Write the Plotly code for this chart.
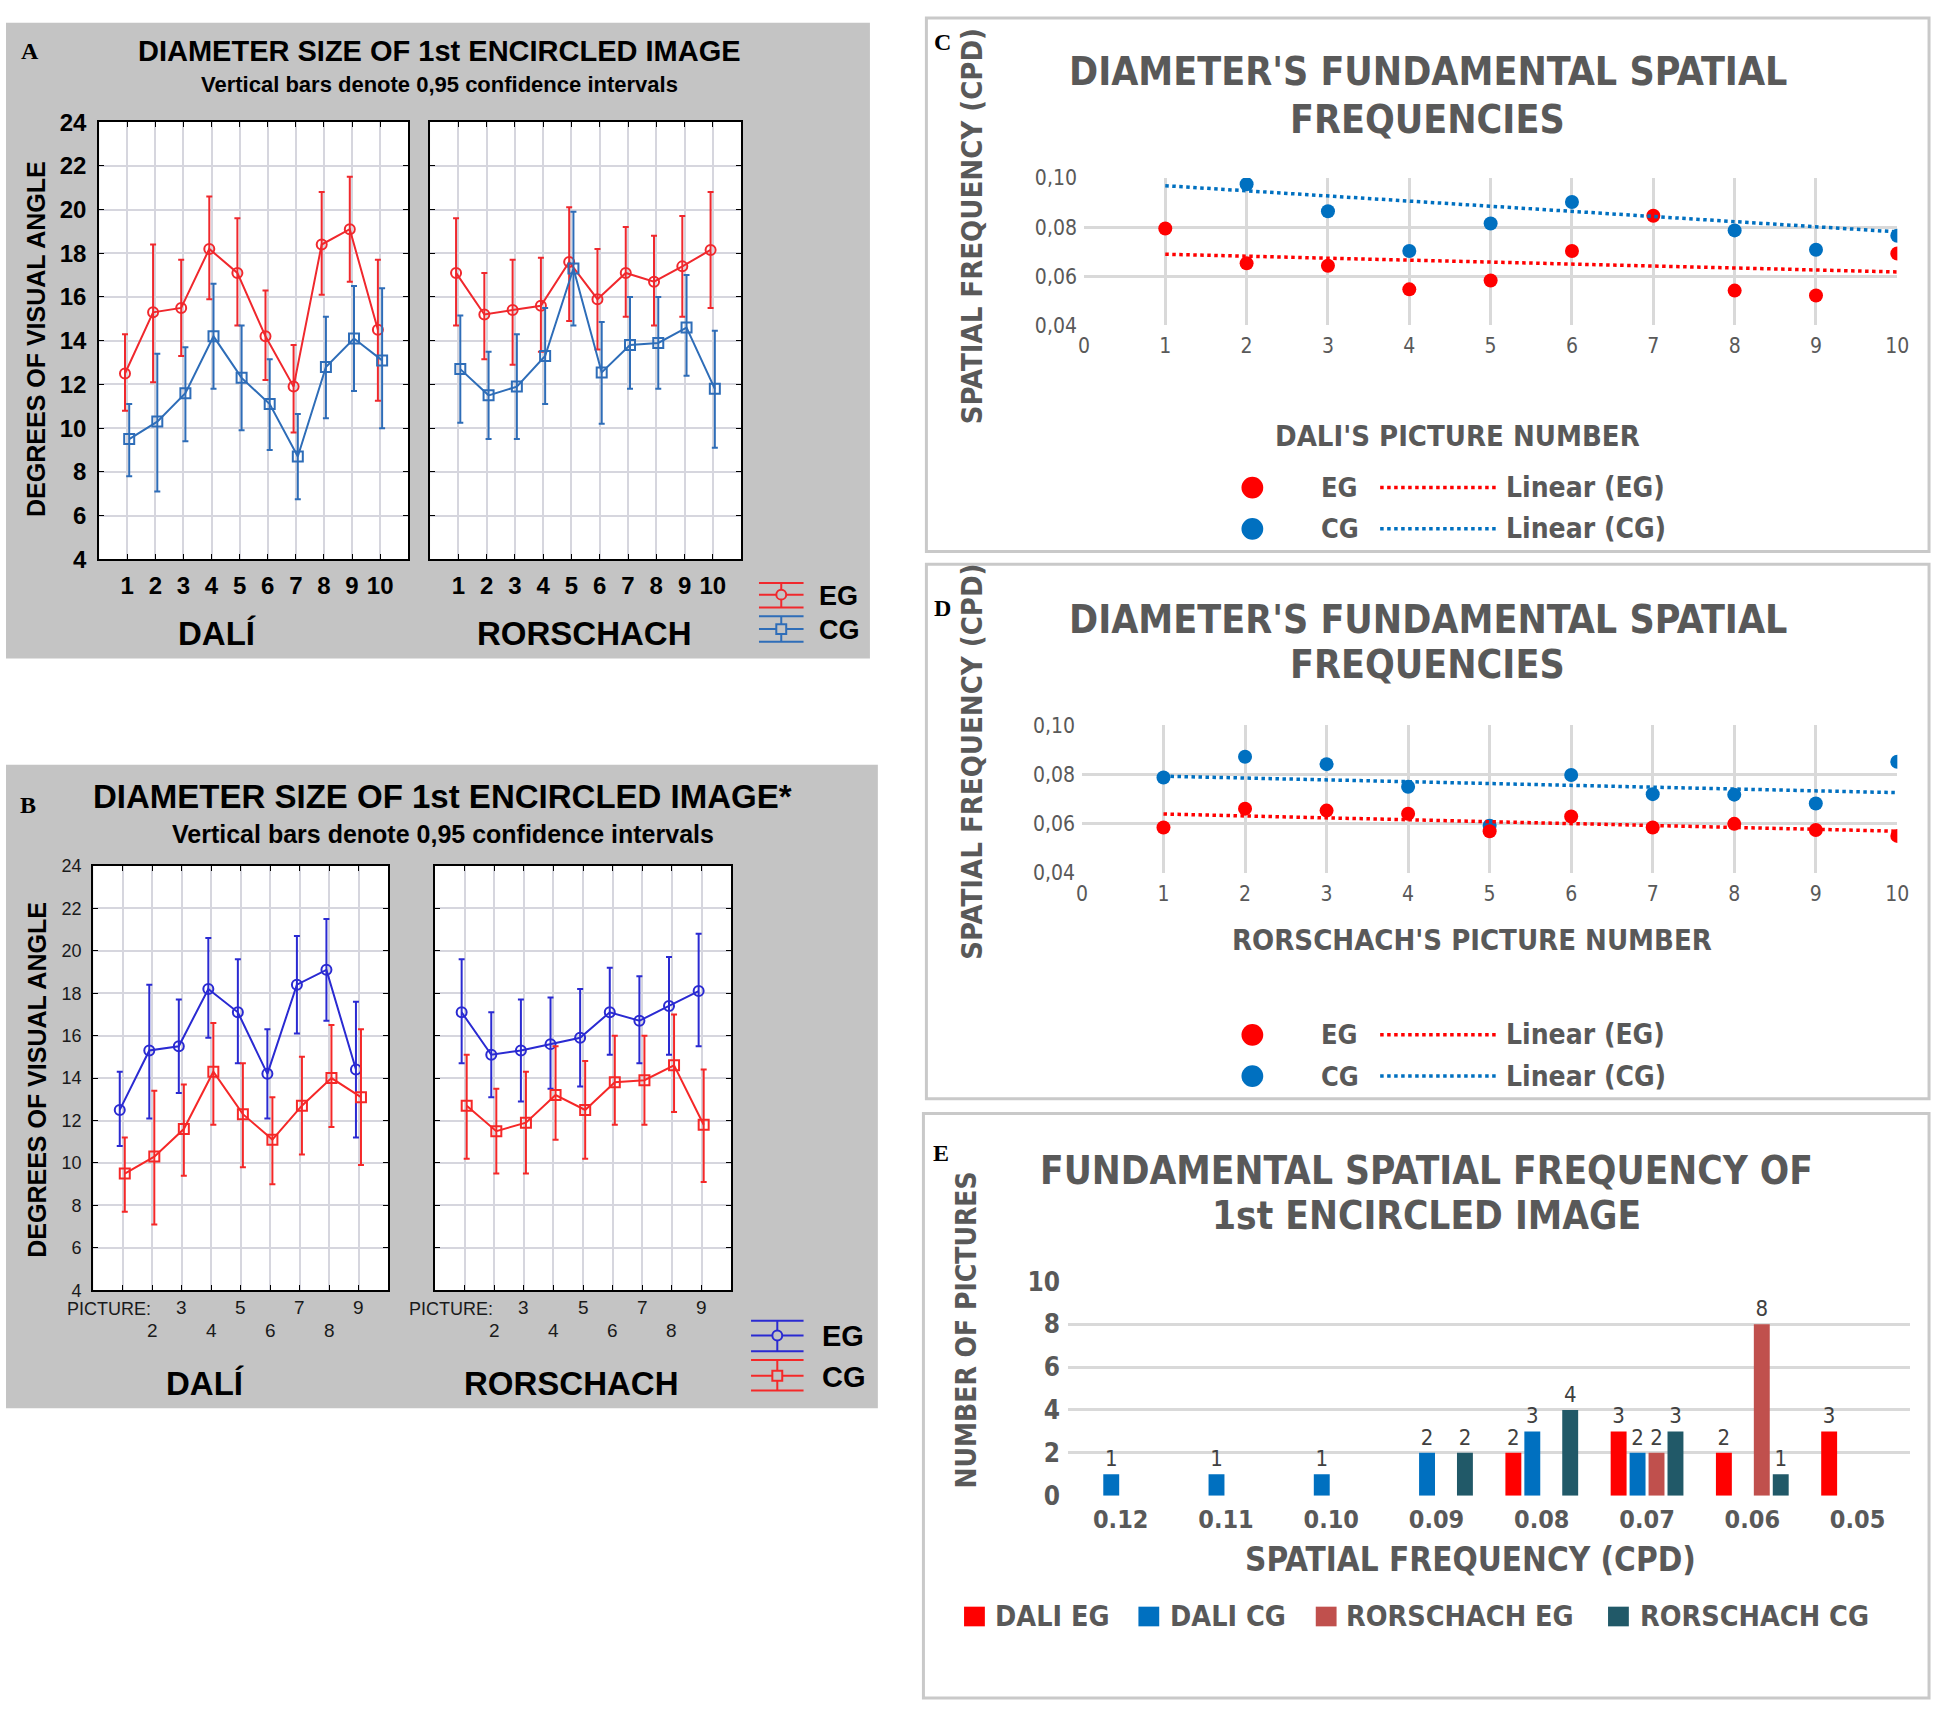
import plotly.graph_objects as go

W, H = 1945, 1716

# ---------------- data ----------------
pictures = [1, 2, 3, 4, 5, 6, 7, 8, 9, 10]

# Panel A - Dali
dali_eg = [12.5, 15.3, 15.5, 18.2, 17.1, 14.2, 11.9, 18.4, 19.1, 14.5]
dali_eg_hi = [14.3, 18.4, 17.7, 20.6, 19.6, 16.3, 13.8, 20.8, 21.5, 17.7]
dali_eg_lo = [10.8, 12.1, 13.3, 15.9, 14.7, 12.2, 9.8, 16.1, 16.7, 11.25]
dali_cg = [9.5, 10.3, 11.6, 14.2, 12.3, 11.1, 8.7, 12.8, 14.1, 13.1]
dali_cg_hi = [11.1, 13.4, 13.7, 16.6, 14.7, 13.15, 10.65, 15.1, 16.5, 16.4]
dali_cg_lo = [7.8, 7.1, 9.4, 11.8, 9.9, 9.0, 6.75, 10.45, 11.7, 10.0]
# Panel A - Rorschach
ror_eg = [17.1, 15.2, 15.4, 15.6, 17.6, 15.9, 17.1, 16.7, 17.4, 18.15]
ror_eg_hi = [19.6, 17.1, 17.7, 17.8, 20.1, 18.2, 19.2, 18.8, 19.7, 20.8]
ror_eg_lo = [14.7, 13.15, 12.9, 13.5, 14.9, 13.6, 15.1, 14.7, 15.1, 15.5]
ror_cg = [12.7, 11.5, 11.9, 13.3, 17.3, 12.55, 13.8, 13.9, 14.6, 11.8]
ror_cg_hi = [15.15, 13.5, 14.3, 15.5, 19.9, 14.85, 16.0, 16.0, 17.0, 14.45]
ror_cg_lo = [10.25, 9.5, 9.5, 11.1, 14.7, 10.2, 11.8, 11.8, 12.4, 9.1]

# Panel B (9 pictures)
b_pictures = [1, 2, 3, 4, 5, 6, 7, 8, 9]
b_tick_labels = ["", "2", "3", "4", "5", "6", "7", "8", "9"]
b_dali_eg = [12.5, 15.3, 15.5, 18.2, 17.1, 14.2, 18.4, 19.1, 14.4]
b_dali_eg_hi = [14.3, 18.4, 17.7, 20.6, 19.6, 16.3, 20.7, 21.5, 17.6]
b_dali_eg_lo = [10.8, 12.1, 13.3, 15.9, 14.7, 12.1, 16.1, 16.7, 11.2]
b_dali_cg = [9.5, 10.3, 11.6, 14.3, 12.3, 11.1, 12.7, 14.0, 13.1]
b_dali_cg_hi = [11.2, 13.4, 13.7, 16.6, 14.7, 13.1, 15.0, 16.5, 16.3]
b_dali_cg_lo = [7.7, 7.1, 9.4, 11.8, 9.8, 9.0, 10.4, 11.7, 9.9]
b_ror_eg = [17.1, 15.1, 15.3, 15.6, 15.9, 17.1, 16.7, 17.4, 18.1]
b_ror_eg_hi = [19.6, 17.1, 17.7, 17.8, 18.2, 19.2, 18.8, 19.7, 20.8]
b_ror_eg_lo = [14.7, 13.1, 12.9, 13.5, 13.6, 15.1, 14.7, 15.1, 15.5]
b_ror_cg = [12.7, 11.5, 11.9, 13.2, 12.5, 13.8, 13.9, 14.6, 11.8]
b_ror_cg_hi = [15.1, 13.5, 14.3, 15.5, 14.8, 16.0, 16.0, 17.0, 14.4]
b_ror_cg_lo = [10.2, 9.5, 9.5, 11.1, 10.2, 11.8, 11.8, 12.4, 9.1]

# Panel C - Dali spatial frequencies
c_eg = [0.0795, 0.0653, 0.0643, 0.0547, 0.0583, 0.0703, 0.0847, 0.0542, 0.0522, 0.0693]
c_cg = [0.12, 0.0975, 0.0865, 0.0703, 0.0815, 0.0903, 0.11, 0.0787, 0.0708, 0.0765]
trend_x = [1, 10]
c_eg_trend = [0.0690, 0.0618]
c_cg_trend = [0.0969, 0.0781]

# Panel D - Rorschach spatial frequencies
d_eg = [0.0584, 0.0661, 0.0653, 0.0640, 0.0569, 0.0629, 0.0584, 0.0599, 0.0574, 0.0550]
d_cg = [0.0788, 0.0872, 0.0842, 0.0750, 0.0591, 0.0798, 0.0720, 0.0718, 0.0682, 0.0852]
d_eg_trend = [0.0639, 0.0569]
d_cg_trend = [0.0793, 0.0726]
sf_ticks = [0.04, 0.06, 0.08, 0.10]
sf_tick_text = ["0,04", "0,06", "0,08", "0,10"]

# Panel E - histogram
freq_bins = ["0.12", "0.11", "0.10", "0.09", "0.08", "0.07", "0.06", "0.05"]
e_dali_eg = [0, 0, 0, 0, 2, 3, 2, 3]
e_dali_cg = [1, 1, 1, 2, 3, 2, 0, 0]
e_ror_eg = [0, 0, 0, 0, 0, 2, 8, 0]
e_ror_cg = [0, 0, 0, 2, 4, 3, 1, 0]

# ---------------- styles ----------------
SANS = "Liberation Sans, Arial, sans-serif"
NARROW = "Liberation Sans Narrow, DejaVu Sans Condensed, Arial Narrow, sans-serif"
SERIF = "Liberation Serif, Times New Roman, serif"
GRAYTXT = "#595959"
PANEL_GRAY = "#C4C4C4"
A_RED, A_BLUE = "#F0282D", "#2E6DB8"
B_BLUE, B_RED = "#2A2AD2", "#F52828"
XL_RED, XL_BLUE = "#FF0000", "#0070C0"
XL_RED2, XL_TEAL = "#C0504D", "#215968"


def PX(x):
    return x / W


def PY(y):
    return 1 - y / H


def dx(a, b):
    return [PX(a), PX(b)]


def dy(top, bottom):
    return [PY(bottom), PY(top)]


fig = go.Figure()


def err_trace(x, y, hi, lo, off, color, symbol, xa, ya):
    fig.add_trace(go.Scatter(
        x=[v + off for v in x], y=y, mode="lines+markers",
        line=dict(color=color, width=2),
        marker=dict(symbol=symbol, size=10, color=color, line=dict(color=color, width=2)),
        error_y=dict(type="data", symmetric=False,
                     array=[h - v for h, v in zip(hi, y)],
                     arrayminus=[v - l for v, l in zip(y, lo)],
                     color=color, thickness=2, width=3),
        xaxis=xa, yaxis=ya, cliponaxis=False, hoverinfo="skip"))


# Panel A
err_trace(pictures, dali_eg, dali_eg_hi, dali_eg_lo, -0.08, A_RED, "circle-open", "x", "y")
err_trace(pictures, dali_cg, dali_cg_hi, dali_cg_lo, 0.07, A_BLUE, "square-open", "x", "y")
err_trace(pictures, ror_eg, ror_eg_hi, ror_eg_lo, -0.08, A_RED, "circle-open", "x2", "y2")
err_trace(pictures, ror_cg, ror_cg_hi, ror_cg_lo, 0.07, A_BLUE, "square-open", "x2", "y2")
# Panel B
err_trace(b_pictures, b_dali_eg, b_dali_eg_hi, b_dali_eg_lo, -0.1, B_BLUE, "circle-open", "x3", "y3")
err_trace(b_pictures, b_dali_cg, b_dali_cg_hi, b_dali_cg_lo, 0.07, B_RED, "square-open", "x3", "y3")
err_trace(b_pictures, b_ror_eg, b_ror_eg_hi, b_ror_eg_lo, -0.1, B_BLUE, "circle-open", "x4", "y4")
err_trace(b_pictures, b_ror_cg, b_ror_cg_hi, b_ror_cg_lo, 0.07, B_RED, "square-open", "x4", "y4")

# Panels C, D
for xa, ya, eg, cg, egt, cgt in [("x5", "y5", c_eg, c_cg, c_eg_trend, c_cg_trend),
                                 ("x6", "y6", d_eg, d_cg, d_eg_trend, d_cg_trend)]:
    fig.add_trace(go.Scatter(x=pictures, y=cg, mode="markers", hoverinfo="skip",
                             marker=dict(size=14, color=XL_BLUE), xaxis=xa, yaxis=ya))
    fig.add_trace(go.Scatter(x=pictures, y=eg, mode="markers", hoverinfo="skip",
                             marker=dict(size=14, color=XL_RED), xaxis=xa, yaxis=ya))
    fig.add_trace(go.Scatter(x=trend_x, y=egt, mode="lines", hoverinfo="skip",
                             line=dict(color=XL_RED, width=3.5, dash="dot"), xaxis=xa, yaxis=ya))
    fig.add_trace(go.Scatter(x=trend_x, y=cgt, mode="lines", hoverinfo="skip",
                             line=dict(color=XL_BLUE, width=3.5, dash="dot"), xaxis=xa, yaxis=ya))

# Panel E
for vals, col in [(e_dali_eg, XL_RED), (e_dali_cg, XL_BLUE), (e_ror_eg, XL_RED2), (e_ror_cg, XL_TEAL)]:
    fig.add_trace(go.Bar(
        x=freq_bins, y=vals, marker=dict(color=col, line=dict(width=0)),
        text=[str(v) if v else "" for v in vals], textposition="outside",
        textfont=dict(family=NARROW, size=22, color="#404040"), cliponaxis=False,
        hoverinfo="skip", xaxis="x7", yaxis="y7"))

# ---------------- axes ----------------
ab_grid = "#D6D6DE"


def ab_x(dom, anchor, rng, ticks, showlabels):
    return dict(domain=dom, anchor=anchor, range=rng, tickvals=ticks, showticklabels=showlabels,
                ticks="inside", ticklen=5, tickcolor="black", showgrid=True, gridcolor=ab_grid,
                gridwidth=2, showline=True, linecolor="black", linewidth=2, mirror="ticks",
                zeroline=False, tickfont=dict(family=SANS, size=24, color="black", weight="bold"),
                ticklabelstandoff=4)


def ab_y(dom, anchor, showlabels, font):
    return dict(domain=dom, anchor=anchor, range=[4, 24], tickvals=list(range(4, 25, 2)),
                showticklabels=showlabels, ticks="inside", ticklen=5, tickcolor="black",
                showgrid=True, gridcolor=ab_grid, gridwidth=2, showline=True, linecolor="black",
                linewidth=2, mirror="ticks", zeroline=False, tickfont=font, ticklabelstandoff=6)


fontA = dict(family=SANS, size=24, color="black", weight="bold")
fontB = dict(family=SANS, size=18, color="#1A1A1A")

xl_grid = "#D9D9D9"


def xl_x(dom, anchor):
    return dict(domain=dom, anchor=anchor, range=[0, 10], dtick=1, showgrid=True, gridcolor=xl_grid,
                gridwidth=3, showline=False, zeroline=False, ticks="",
                tickfont=dict(family=NARROW, size=21, color=GRAYTXT), ticklabelstandoff=6)


def xl_y(dom, anchor):
    return dict(domain=dom, anchor=anchor, range=[0.04, 0.10], tickvals=sf_ticks, ticktext=sf_tick_text,
                showgrid=True, gridcolor=xl_grid, gridwidth=3, showline=False, zeroline=False, ticks="",
                tickfont=dict(family=NARROW, size=21, color=GRAYTXT), ticklabelstandoff=6)


fig.update_layout(
    width=W, height=H, margin=dict(l=0, r=0, t=0, b=0),
    paper_bgcolor="white", plot_bgcolor="rgba(0,0,0,0)", showlegend=False,
    barmode="group", bargap=0.28, bargroupgap=0.16, hovermode=False,
    xaxis=ab_x(dx(94, 406), "y", [0, 11], pictures, True),
    yaxis=ab_y(dy(109, 554), "x", True, fontA),
    xaxis2=ab_x(dx(428, 742), "y2", [0, 11], pictures, True),
    yaxis2=ab_y(dy(109, 554), "x2", False, fontA),
    xaxis3=ab_x(dx(88, 386), "y3", [0, 10], b_pictures, False),
    yaxis3=ab_y(dy(866, 1298), "x3", True, fontB),
    xaxis4=ab_x(dx(433, 732), "y4", [0, 10], b_pictures, False),
    yaxis4=ab_y(dy(866, 1298), "x4", False, fontB),
    xaxis5=xl_x(dx(1088, 1909), "y5"),
    yaxis5=xl_y(dy(166, 316), "x5"),
    xaxis6=xl_x(dx(1086, 1909), "y6"),
    yaxis6=xl_y(dy(723, 873), "x6"),
    xaxis7=dict(domain=dx(1072, 1922), anchor="y7", type="category", showgrid=False,
                showline=False, zeroline=False, ticks="",
                tickfont=dict(family=NARROW, size=25, color=GRAYTXT, weight="bold"),
                ticklabelstandoff=6),
    yaxis7=dict(domain=dy(1289, 1507), anchor="x7", range=[0, 10], dtick=2, showgrid=True,
                gridcolor=xl_grid, gridwidth=3, zeroline=False, showline=False, ticks="",
                tickfont=dict(family=NARROW, size=26, color=GRAYTXT, weight="bold"),
                ticklabelstandoff=7),
)

# ---------------- shapes ----------------
shapes = []


def rect(x0, y0, x1, y1, fill, line_color=None, lw=0, layer="below"):
    shapes.append(dict(type="rect", xref="paper", yref="paper", x0=PX(x0), x1=PX(x1),
                       y0=PY(y1), y1=PY(y0), fillcolor=fill, layer=layer,
                       line=dict(color=line_color or fill, width=lw)))


def hline(x0, x1, y, color, lw=2, dash="solid"):
    shapes.append(dict(type="line", xref="paper", yref="paper", x0=PX(x0), x1=PX(x1),
                       y0=PY(y), y1=PY(y), line=dict(color=color, width=lw, dash=dash)))


def vline(x, y0, y1, color, lw=2):
    shapes.append(dict(type="line", xref="paper", yref="paper", x0=PX(x), x1=PX(x),
                       y0=PY(y0), y1=PY(y1), line=dict(color=color, width=lw)))


def circle(cx, cy, r, color, fill, lw=2):
    shapes.append(dict(type="circle", xref="paper", yref="paper", x0=PX(cx - r), x1=PX(cx + r),
                       y0=PY(cy + r), y1=PY(cy - r), fillcolor=fill, line=dict(color=color, width=lw)))


# panel backgrounds
rect(0, 8, 872, 655, PANEL_GRAY)
rect(0, 763, 880, 1418, PANEL_GRAY)
for (x0, y0, x1, y1) in [(94, 109, 406, 554), (428, 109, 742, 554), (88, 866, 386, 1298), (433, 866, 732, 1298)]:
    rect(x0, y0, x1, y1, "white")
rect(929, 3, 1941, 546, "white", "#C9C9C9", 3)
rect(929, 559, 1941, 1103, "white", "#C9C9C9", 3)
rect(926, 1118, 1941, 1713, "white", "#C9C9C9", 3)


# A/B legend symbols
def err_symbol(x0, x1, ytop, ymid, ybot, color, kind, bg):
    hline(x0, x1, ytop, color)
    hline(x0, x1, ymid, color)
    hline(x0, x1, ybot, color)
    xc = (x0 + x1) / 2
    vline(xc, ytop, ybot, color)
    if kind == "circle":
        circle(xc, ymid, 5, color, bg)
    else:
        rect(xc - 5, ymid - 5, xc + 5, ymid + 5, bg, color, 2, layer="above")


err_symbol(760, 805, 578, 590, 603, A_RED, "circle", PANEL_GRAY)
err_symbol(760, 805, 612, 625, 638, A_BLUE, "square", PANEL_GRAY)
err_symbol(752, 805, 1329, 1344, 1360, B_BLUE, "circle", PANEL_GRAY)
err_symbol(752, 805, 1369, 1385, 1400, B_RED, "square", PANEL_GRAY)

# C/D legends
for y_eg, y_cg in [(481, 523), (1038, 1080)]:
    circle(1258, y_eg, 11, XL_RED, XL_RED, 0)
    circle(1258, y_cg, 11, XL_BLUE, XL_BLUE, 0)
    hline(1387, 1504, y_eg, XL_RED, 3.5, "dot")
    hline(1387, 1504, y_cg, XL_BLUE, 3.5, "dot")

# E legend squares
for x0, col in [(967, XL_RED), (1143, XL_BLUE), (1322, XL_RED2), (1617, XL_TEAL)]:
    rect(x0, 1620, x0 + 21, 1640, col, layer="above")

fig.update_layout(shapes=shapes)

# ---------------- annotations ----------------
anns = []


def text(t, x, y, size, family=SANS, color="black", bold=True, xanchor="center", angle=0,
         xref="paper"):
    anns.append(dict(text=t, x=PX(x) if xref == "paper" else x, y=PY(y), xref=xref, yref="paper",
                     showarrow=False, xanchor=xanchor, yanchor="middle", textangle=angle,
                     font=dict(family=family, size=size, color=color,
                               weight="bold" if bold else "normal")))


# Panel A
text("A", 24, 37, 24, SERIF)
text("DIAMETER SIZE OF 1st ENCIRCLED IMAGE", 438, 37, 29)
text("Vertical bars denote 0,95 confidence intervals", 438, 71, 22)
text("DEGREES OF VISUAL ANGLE", 31, 330, 25, angle=-90)
text("DALÍ", 213, 630, 33)
text("RORSCHACH", 584, 630, 33)
text("EG", 819, 591, 27, xanchor="left")
text("CG", 819, 626, 27, xanchor="left")

# Panel B
text("B", 22, 804, 24, SERIF)
text("DIAMETER SIZE OF 1st ENCIRCLED IMAGE*", 441, 795, 33)
text("Vertical bars denote 0,95 confidence intervals", 441, 834, 25)
text("DEGREES OF VISUAL ANGLE", 31, 1084, 25, angle=-90)
text("DALÍ", 201, 1393, 33)
text("RORSCHACH", 571, 1393, 33)
text("EG", 822, 1344, 29, xanchor="left")
text("CG", 822, 1386, 29, xanchor="left")
text("PICTURE:", 104, 1317, 18, color="#1A1A1A", bold=False)
text("PICTURE:", 449, 1317, 18, color="#1A1A1A", bold=False)
for xr in ["x3", "x4"]:
    for p, lab in zip(b_pictures, b_tick_labels):
        if lab:
            text(lab, p, 1316 if p % 2 else 1339, 19, color="#1A1A1A", bold=False, xref=xr)

# Panel C
text("C", 945, 27, 24, SERIF)
text("DIAMETER'S FUNDAMENTAL SPATIAL", 1435, 58, 39, NARROW, GRAYTXT)
text("FREQUENCIES", 1435, 106, 39, NARROW, GRAYTXT)
text("SPATIAL FREQUENCY (CPD)", 975, 215, 29, NARROW, GRAYTXT, angle=-90)
text("DALI'S PICTURE NUMBER", 1465, 428, 29, NARROW, GRAYTXT)
text("EG", 1325, 481, 27, NARROW, GRAYTXT, xanchor="left")
text("CG", 1325, 523, 27, NARROW, GRAYTXT, xanchor="left")
text("Linear (EG)", 1512, 481, 28, NARROW, GRAYTXT, xanchor="left")
text("Linear (CG)", 1512, 523, 28, NARROW, GRAYTXT, xanchor="left")

# Panel D
text("D", 945, 604, 24, SERIF)
text("DIAMETER'S FUNDAMENTAL SPATIAL", 1435, 615, 39, NARROW, GRAYTXT)
text("FREQUENCIES", 1435, 661, 39, NARROW, GRAYTXT)
text("SPATIAL FREQUENCY (CPD)", 975, 760, 29, NARROW, GRAYTXT, angle=-90)
text("RORSCHACH'S PICTURE NUMBER", 1480, 941, 29, NARROW, GRAYTXT)
text("EG", 1325, 1038, 27, NARROW, GRAYTXT, xanchor="left")
text("CG", 1325, 1080, 27, NARROW, GRAYTXT, xanchor="left")
text("Linear (EG)", 1512, 1038, 28, NARROW, GRAYTXT, xanchor="left")
text("Linear (CG)", 1512, 1080, 28, NARROW, GRAYTXT, xanchor="left")

# Panel E
text("E", 944, 1158, 24, SERIF)
text("FUNDAMENTAL SPATIAL FREQUENCY OF", 1434, 1176, 38.5, NARROW, GRAYTXT)
text("1st ENCIRCLED IMAGE", 1434, 1222, 38.5, NARROW, GRAYTXT)
text("NUMBER OF PICTURES", 970, 1339, 28, NARROW, GRAYTXT, angle=-90)
text("SPATIAL FREQUENCY (CPD)", 1478, 1572, 33, NARROW, GRAYTXT)
for x0, lab in [(996, "DALI EG"), (1173, "DALI CG"), (1351, "RORSCHACH EG"), (1647, "RORSCHACH CG")]:
    text(lab, x0, 1630, 28.5, NARROW, GRAYTXT, xanchor="left")

fig.update_layout(annotations=anns)

fig.write_html("out.html", config={"displayModeBar": False, "staticPlot": True},
               post_script="document.body.style.margin='0px';document.body.style.overflow='hidden';")
